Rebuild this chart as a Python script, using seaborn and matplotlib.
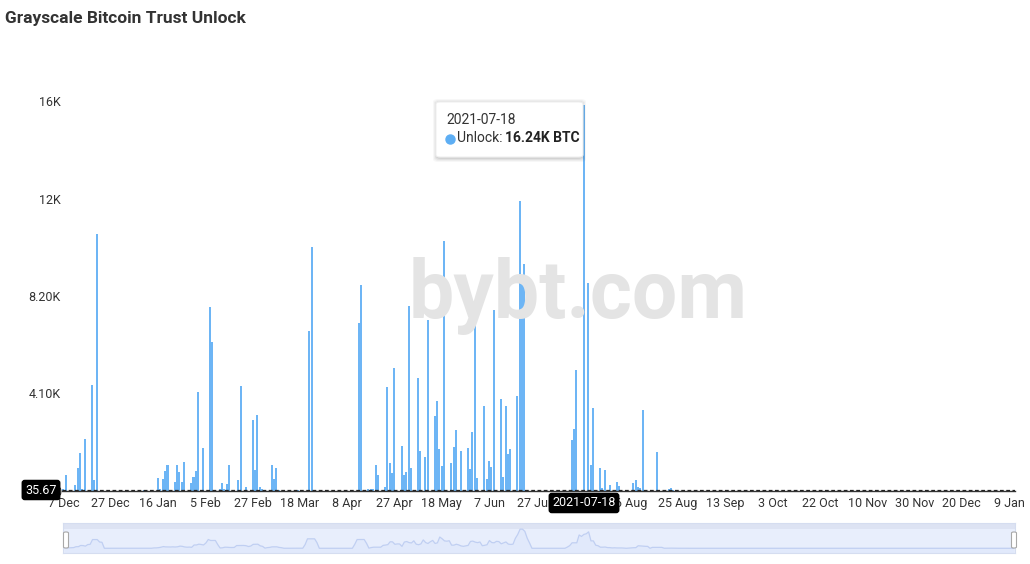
import numpy as np
import pandas as pd
import matplotlib
matplotlib.use("Agg")
import matplotlib.pyplot as plt
import seaborn as sns
from matplotlib.patches import FancyBboxPatch
from matplotlib.lines import Line2D

# ---- data (category index along the x axis, one category per day) ----
day_idx = [0, 1, 5, 6, 7, 8, 9, 12, 13, 14,
           34, 37, 40, 41, 42, 43, 44, 47, 48, 49, 50, 51, 54, 55, 56, 57, 59, 62, 63,
           66, 67, 68, 69, 70, 74, 75, 77, 80, 81, 82, 83, 84, 88, 89, 90, 91, 98, 99,
           104, 105, 125, 126, 129, 130, 131, 132, 133, 136, 137, 138, 139, 140,
           143, 144, 145, 146, 147, 150, 151, 153, 154, 157, 158, 159, 160, 161,
           164, 165, 166, 168, 171, 172, 173, 174, 175, 178, 179, 180, 181, 182,
           185, 186, 187, 188, 189, 192, 193, 194, 195,
           215, 216, 217, 220, 222, 223, 224, 227, 228, 229, 231, 234, 235,
           241, 242, 243, 244, 245, 251, 256, 257, 258]
unlock_btc = [100, 660, 240, 980, 1580, 70, 2200, 4440, 450, 10800,
              50, 60, 560, 70, 490, 840, 1080, 380, 1110, 790, 390, 1200, 340, 580, 860, 4150, 1800, 7720, 6280,
              100, 340, 100, 300, 1080, 450, 4430, 180, 2990, 900, 3180, 180, 90, 1080, 490, 980, 60, 60, 60,
              6740, 10280, 7050, 8680, 70, 70, 70, 1080, 670, 180, 4390, 1190, 770, 5190,
              1880, 690, 815, 7800, 950, 4740, 1700, 1420, 7200, 3140, 3800, 1750, 1040, 10510,
              1190, 1850, 2570, 1680, 1800, 910, 2490, 7150, 530, 3590, 490, 1260, 1000, 7600,
              3870, 590, 3590, 1570, 1770, 3980, 12200, 8690, 9560,
              2140, 2590, 5100, 16240, 8730, 1090, 3500, 950, 130, 870, 260, 360, 230,
              340, 470, 170, 140, 3410, 1630, 70, 120, 50]
n_days = 403

tick_idx = list(range(0, 401, 20))
# the 18 Jul label sits under the axis pointer label, so it is left blank
tick_labels = ["7 Dec", "27 Dec", "16 Jan", "5 Feb", "27 Feb", "18 Mar", "8 Apr",
               "27 Apr", "18 May", "7 Jun", "27 Jun", "", "6 Aug", "25 Aug",
               "13 Sep", "3 Oct", "22 Oct", "10 Nov", "30 Nov", "20 Dec", "9 Jan"]
y_ticks = [0, 4100, 8200, 12300, 16400]
y_tick_labels = ["0", "4.10K", "8.20K", "12K", "16K"]

BAR_COLOR = "#6db5f5"
TEXT_COLOR = "#333333"

sns.set_style("white")
plt.rcParams["font.family"] = ["Roboto", "DejaVu Sans"]

values = np.zeros(n_days)
values[day_idx] = unlock_btc
df = pd.DataFrame({"day": np.arange(n_days), "btc": values})

W, H = 1030, 564
fig = plt.figure(figsize=(W / 100, H / 100), dpi=100)


def fx(x):
    return x / W


def fy(y):
    return 1 - y / H


# watermark first so the bars sit on top of it
fig.text(fx(578), fy(296), "bybt.com", fontsize=58, fontweight="bold",
         color="#e4e4e4", ha="center", va="center", zorder=0)

ax = fig.add_axes([fx(62.3), fy(491), (1015 - 62.3) / W, (491 - 101) / H])
ax.patch.set_alpha(0)
sns.barplot(data=df, x="day", y="btc", native_scale=True, color=BAR_COLOR,
            saturation=1, width=0.85, errorbar=None, linewidth=0,
            edgecolor="none", ax=ax)
ax.set_xlim(-0.5, 402.5)
ax.set_ylim(0, 16400)
ax.set_xticks(tick_idx, tick_labels)
ax.set_yticks(y_ticks, y_tick_labels)
ax.set_xlabel("")
ax.set_ylabel("")
ax.tick_params(length=0, labelsize=9, colors=TEXT_COLOR)
ax.tick_params(axis="x", pad=4)
ax.tick_params(axis="y", pad=1)
for s in ["left", "top", "right"]:
    ax.spines[s].set_visible(False)
ax.spines["bottom"].set_color(TEXT_COLOR)
ax.spines["bottom"].set_linewidth(1)

# crosshair at the cursor value
ax.axhline(35.67, color="#222222", lw=0.9, ls=(0, (3, 2)), zorder=5)

fig.text(fx(5), fy(18), "Grayscale Bitcoin Trust Unlock", fontsize=12.5,
         fontweight="bold", color=TEXT_COLOR, va="center", ha="left")

# axis pointer labels
fig.text(fx(41), fy(490), "35.67", fontsize=9, color="white", ha="center", va="center",
         bbox=dict(boxstyle="round,pad=0.3,rounding_size=0.25", fc="black", ec="none"))
fig.text(fx(584), fy(503), "2021-07-18", fontsize=9, color="white", ha="center", va="center",
         bbox=dict(boxstyle="round,pad=0.3,rounding_size=0.25", fc="black", ec="none"))

# tooltip
tx0, ty0, tx1, ty1 = 436, 102, 583, 157
for k, a in [(4, 0.03), (3, 0.04), (2, 0.05), (1, 0.06)]:
    fig.add_artist(FancyBboxPatch((fx(tx0 - k + 1), fy(ty1 + k + 1)), (tx1 - tx0 + 2 * k - 2) / W,
                                  (ty1 - ty0 + 2 * k) / H, boxstyle="round,pad=0,rounding_size=0.005",
                                  transform=fig.transFigure, fc="black", ec="none", alpha=a, zorder=6))
fig.add_artist(FancyBboxPatch((fx(tx0), fy(ty1)), (tx1 - tx0) / W, (ty1 - ty0) / H,
                              boxstyle="round,pad=0,rounding_size=0.004",
                              transform=fig.transFigure, fc="white", ec="#f0f0f0", lw=0.8, zorder=7))
fig.text(fx(446), fy(120), "2021-07-18", fontsize=10, color=TEXT_COLOR, va="center", zorder=8)
fig.add_artist(Line2D([fx(449.5)], [fy(138.5)], marker="o", ms=6.5, color="#5daef4",
                      transform=fig.transFigure, zorder=8))
fig.text(fx(457), fy(138), "Unlock:", fontsize=10, color=TEXT_COLOR, va="center", zorder=8)
fig.text(fx(505), fy(138), "16.24K BTC", fontsize=10, fontweight="bold",
         color="#222222", va="center", zorder=8)

# data zoom slider with a smoothed mini preview of the series
ax2 = fig.add_axes([fx(63), fy(553), (1015 - 63) / W, 30 / H])
ax2.set_facecolor("#e8eefc")
preview = df["btc"].rolling(5, center=True, min_periods=1).mean()
ax2.set_xlim(-0.5, 402.5)
ax2.set_ylim(-1700, 9100)
ax2.axhspan(6950, 9100, color="#dde3f3", lw=0)
ax2.fill_between(df["day"], -1700, preview, color="#e1e9fb", lw=0)
sns.lineplot(x=df["day"], y=preview, ax=ax2, color="#c0cff2", lw=0.9)
ax2.set_xticks([])
ax2.set_yticks([])
ax2.set_xlabel("")
ax2.set_ylabel("")
for s in ax2.spines.values():
    s.set_color("#d5ddf0")
    s.set_linewidth(0.8)
for hx in (63.5, 1011.5):
    fig.add_artist(FancyBboxPatch((fx(hx), fy(548)), 5 / W, 16 / H,
                                  boxstyle="round,pad=0,rounding_size=0.002",
                                  transform=fig.transFigure, fc="white", ec="#a8a8a8", lw=0.8, zorder=6))

fig.savefig("out.png", dpi=100)
